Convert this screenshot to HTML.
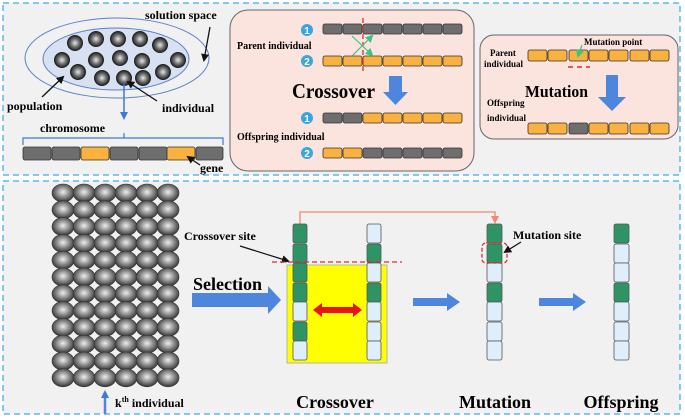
<!DOCTYPE html>
<html><head><meta charset="utf-8"><style>
body{margin:0;background:#fff}
svg{display:block;font-family:"Liberation Serif",serif;font-weight:bold}
</style></head><body>
<svg width="685" height="420" viewBox="0 0 685 420" xmlns="http://www.w3.org/2000/svg">
<defs>
<radialGradient id="b" cx="0.5" cy="0.45" r="0.55"><stop offset="0" stop-color="#eeeeee"/><stop offset="0.5" stop-color="#909090"/><stop offset="1" stop-color="#333"/></radialGradient>
<radialGradient id="s" cx="0.5" cy="0.5" r="0.5"><stop offset="0" stop-color="#e8e8e8"/><stop offset="0.55" stop-color="#707070"/><stop offset="1" stop-color="#222"/></radialGradient>
<ellipse id="g" rx="11" ry="9" fill="url(#b)" stroke="#333" stroke-width="0.6"/>
<circle id="t" r="7.5" fill="url(#s)" stroke="#222" stroke-width="1"/>
<marker id="ah" markerWidth="8" markerHeight="8" refX="6" refY="4" orient="auto" markerUnits="userSpaceOnUse"><path d="M0,0 L8,4 L0,8 Z" fill="#111"/></marker>
<marker id="ag" markerWidth="8" markerHeight="8" refX="6" refY="4" orient="auto" markerUnits="userSpaceOnUse"><path d="M0,0 L8,4 L0,8 Z" fill="#3cc483"/></marker>
<marker id="ab" markerWidth="8" markerHeight="8" refX="6" refY="4" orient="auto" markerUnits="userSpaceOnUse"><path d="M0,0 L8,4 L0,8 Z" fill="#3a7bd5"/></marker>
<marker id="ao" markerWidth="8" markerHeight="8" refX="6" refY="4" orient="auto" markerUnits="userSpaceOnUse"><path d="M0,0 L8,4 L0,8 Z" fill="#f08a6a"/></marker>
</defs>
<rect width="685" height="420" fill="#fff"/>
<rect x="3" y="3" width="677" height="172" fill="#f1f1f1" stroke="#5bbbe8" stroke-width="1.5" stroke-dasharray="6,4"/>
<rect x="3" y="181" width="677" height="233" fill="#f1f1f1" stroke="#5bbbe8" stroke-width="1.5" stroke-dasharray="6,4"/>

<!-- solution space -->
<ellipse cx="117" cy="58" rx="92" ry="40" fill="none" stroke="#5a7fc8" stroke-width="1"/>
<ellipse cx="116" cy="59" rx="73" ry="31" fill="#d8e1f1" stroke="#5a7fc8" stroke-width="1"/>
<use href="#t" x="75" y="43"/><use href="#t" x="96" y="39"/><use href="#t" x="118" y="39"/><use href="#t" x="140" y="39"/><use href="#t" x="160" y="45"/>
<use href="#t" x="62" y="60"/><use href="#t" x="96" y="60"/><use href="#t" x="120" y="58"/><use href="#t" x="142" y="61"/><use href="#t" x="178" y="60"/>
<use href="#t" x="78" y="72"/><use href="#t" x="102" y="78"/><use href="#t" x="124" y="78"/><use href="#t" x="143" y="78"/><use href="#t" x="163" y="72"/>
<text x="145" y="19" font-size="12">solution space</text>
<line x1="210" y1="27" x2="204" y2="60" stroke="#111" stroke-width="1.3" marker-end="url(#ah)"/>
<text x="7" y="110" font-size="12">population</text>
<line x1="42" y1="97" x2="63" y2="77" stroke="#111" stroke-width="1.3" marker-end="url(#ah)"/>
<text x="162" y="112" font-size="12">individual</text>
<line x1="157" y1="101" x2="128" y2="82" stroke="#111" stroke-width="1.3" marker-end="url(#ah)"/>
<line x1="124" y1="84" x2="124" y2="118" stroke="#3a7bd5" stroke-width="1.5" marker-end="url(#ab)"/>
<text x="40" y="132" font-size="12">chromosome</text>
<path d="M23,145 V138 H223 V145 M124,138 V133" fill="none" stroke="#3a7bd5" stroke-width="1.2"/>
<g stroke="#333" stroke-width="0.8">
<rect x="23" y="147" width="28" height="13" rx="2" fill="#6e6e6e"/><rect x="52" y="147" width="28" height="13" rx="2" fill="#6e6e6e"/><rect x="81" y="147" width="28" height="13" rx="2" fill="#f9b13f"/><rect x="110" y="147" width="28" height="13" rx="2" fill="#6e6e6e"/><rect x="139" y="147" width="28" height="13" rx="2" fill="#6e6e6e"/><rect x="167" y="147" width="28" height="13" rx="2" fill="#f9b13f"/><rect x="196" y="147" width="27" height="13" rx="2" fill="#6e6e6e"/>
</g>
<text x="200" y="172" font-size="12">gene</text>
<line x1="200" y1="165" x2="188" y2="157" stroke="#111" stroke-width="1.3" marker-end="url(#ah)"/>

<!-- crossover panel -->
<rect x="230" y="10" width="244" height="161" rx="18" fill="#fbe3de" stroke="#666" stroke-width="1"/>
<g font-size="10" font-family="Liberation Sans,sans-serif" fill="#fff">
<circle cx="307" cy="30" r="6" fill="#3aa6df"/><text x="307" y="34" text-anchor="middle">1</text>
<circle cx="307" cy="61" r="6" fill="#3aa6df"/><text x="307" y="65" text-anchor="middle">2</text>
<circle cx="307" cy="118" r="6" fill="#3aa6df"/><text x="307" y="122" text-anchor="middle">1</text>
<circle cx="307" cy="153" r="6" fill="#3aa6df"/><text x="307" y="157" text-anchor="middle">2</text>
</g>
<g stroke="#333" stroke-width="0.8">
<g fill="#6e6e6e"><rect x="323" y="24" width="19" height="10" rx="2"/><rect x="343" y="24" width="19" height="10" rx="2"/><rect x="363" y="24" width="19" height="10" rx="2"/><rect x="383" y="24" width="19" height="10" rx="2"/><rect x="403" y="24" width="19" height="10" rx="2"/><rect x="423" y="24" width="19" height="10" rx="2"/><rect x="443" y="24" width="19" height="10" rx="2"/></g>
<g fill="#f9b13f"><rect x="323" y="56" width="19" height="10" rx="2"/><rect x="343" y="56" width="19" height="10" rx="2"/><rect x="363" y="56" width="19" height="10" rx="2"/><rect x="383" y="56" width="19" height="10" rx="2"/><rect x="403" y="56" width="19" height="10" rx="2"/><rect x="423" y="56" width="19" height="10" rx="2"/><rect x="443" y="56" width="19" height="10" rx="2"/></g>
<rect x="323" y="113" width="19" height="10" rx="2" fill="#6e6e6e"/><rect x="343" y="113" width="19" height="10" rx="2" fill="#6e6e6e"/>
<g fill="#f9b13f"><rect x="363" y="113" width="19" height="10" rx="2"/><rect x="383" y="113" width="19" height="10" rx="2"/><rect x="403" y="113" width="19" height="10" rx="2"/><rect x="423" y="113" width="19" height="10" rx="2"/><rect x="443" y="113" width="19" height="10" rx="2"/>
<rect x="323" y="148" width="19" height="10" rx="2"/><rect x="343" y="148" width="19" height="10" rx="2"/></g>
<g fill="#6e6e6e"><rect x="363" y="148" width="19" height="10" rx="2"/><rect x="383" y="148" width="19" height="10" rx="2"/><rect x="403" y="148" width="19" height="10" rx="2"/><rect x="423" y="148" width="19" height="10" rx="2"/><rect x="443" y="148" width="19" height="10" rx="2"/></g>
</g>
<line x1="363" y1="18" x2="363" y2="74" stroke="#d9302c" stroke-width="1.3" stroke-dasharray="5,3"/>
<line x1="352" y1="56" x2="372" y2="36" stroke="#3cc483" stroke-width="1.2" marker-end="url(#ag)"/>
<line x1="352" y1="36" x2="372" y2="55" stroke="#3cc483" stroke-width="1.2" marker-end="url(#ag)"/>
<text x="237" y="49" font-size="10">Parent individual</text>
<text x="237" y="140" font-size="10">Offspring individual</text>
<text x="292" y="98" font-size="21" textLength="83" lengthAdjust="spacingAndGlyphs">Crossover</text>
<path d="M389,76 H402 V92 H408 L395.5,105 L383,92 H389 Z" fill="#4d86dc"/>

<!-- mutation panel -->
<rect x="480" y="35" width="198" height="104" rx="14" fill="#fbe3de" stroke="#666" stroke-width="1"/>
<g stroke="#333" stroke-width="0.8" fill="#f9b13f">
<rect x="528" y="50" width="19" height="11" rx="2"/><rect x="548" y="50" width="19" height="11" rx="2"/><rect x="569" y="50" width="19" height="11" rx="2"/><rect x="589" y="50" width="19" height="11" rx="2"/><rect x="609" y="50" width="19" height="11" rx="2"/><rect x="630" y="50" width="19" height="11" rx="2"/><rect x="650" y="50" width="19" height="11" rx="2"/>
<rect x="528" y="123" width="19" height="11" rx="2"/><rect x="548" y="123" width="19" height="11" rx="2"/><rect x="569" y="123" width="19" height="11" rx="2" fill="#6e6e6e"/><rect x="589" y="123" width="19" height="11" rx="2"/><rect x="609" y="123" width="19" height="11" rx="2"/><rect x="630" y="123" width="19" height="11" rx="2"/><rect x="650" y="123" width="19" height="11" rx="2"/>
</g>
<line x1="568" y1="67" x2="590" y2="67" stroke="#d9302c" stroke-width="1.5" stroke-dasharray="5,4"/>
<text x="584" y="45" font-size="9">Mutation point</text>
<line x1="582" y1="45" x2="578" y2="56" stroke="#3cc483" stroke-width="1.2" marker-end="url(#ag)"/>
<text x="490" y="56" font-size="9">Parent</text>
<text x="484" y="67" font-size="9">individual</text>
<text x="487" y="106" font-size="9">Offspring</text>
<text x="487" y="121" font-size="9">individual</text>
<text x="525" y="97" font-size="17" textLength="63" lengthAdjust="spacingAndGlyphs">Mutation</text>
<path d="M606,75 H618 V97 H626 L612,111 L598,97 H606 Z" fill="#4d86dc"/>

<!-- bottom population grid -->
<g id="row">
<use href="#g" x="63" y="193"/><use href="#g" x="84" y="193"/><use href="#g" x="105" y="193"/><use href="#g" x="126" y="193"/><use href="#g" x="147" y="193"/><use href="#g" x="168" y="193"/>
</g>
<use href="#row" y="16.8"/><use href="#row" y="33.6"/><use href="#row" y="50.4"/><use href="#row" y="67.2"/><use href="#row" y="84"/><use href="#row" y="100.8"/><use href="#row" y="117.6"/><use href="#row" y="134.4"/><use href="#row" y="151.2"/><use href="#row" y="168"/><use href="#row" y="184.8"/>
<line x1="105" y1="414" x2="105" y2="392" stroke="#4d86dc" stroke-width="2.5" marker-end="url(#ab)"/>
<text x="115" y="407" font-size="12">k<tspan font-size="8" dy="-5">th</tspan><tspan dy="5"> individual</tspan></text>

<text x="184" y="240" font-size="12">Crossover site</text>
<line x1="240" y1="246" x2="288" y2="261" stroke="#111" stroke-width="1.2" marker-end="url(#ah)"/>
<text x="193" y="290" font-size="18">Selection</text>
<path d="M192,293 H268 V286 L281,300 L268,314 V307 H192 Z" fill="#4d86dc"/>

<rect x="287" y="265" width="100" height="98" fill="#ffff00" stroke="#9ab" stroke-width="0.8"/>
<path d="M300,224 V212 H495 V222" fill="none" stroke="#f08a6a" stroke-width="1.3" marker-end="url(#ao)"/>
<g stroke="#555" stroke-width="0.8">
<rect x="293" y="224" width="14" height="19" rx="2" fill="#2e9466"/><rect x="293" y="244" width="14" height="19" rx="2" fill="#2e9466"/><rect x="293" y="263" width="14" height="19" rx="2" fill="#2e9466"/><rect x="293" y="283" width="14" height="19" rx="2" fill="#2e9466"/><rect x="293" y="302" width="14" height="19" rx="2" fill="#deeefa"/><rect x="293" y="322" width="14" height="19" rx="2" fill="#2e9466"/><rect x="293" y="341" width="14" height="19" rx="2" fill="#deeefa"/>
<rect x="367" y="224" width="14" height="19" rx="2" fill="#deeefa"/><rect x="367" y="244" width="14" height="19" rx="2" fill="#2e9466"/><rect x="367" y="263" width="14" height="19" rx="2" fill="#deeefa"/><rect x="367" y="283" width="14" height="19" rx="2" fill="#2e9466"/><rect x="367" y="302" width="14" height="19" rx="2" fill="#deeefa"/><rect x="367" y="322" width="14" height="19" rx="2" fill="#deeefa"/><rect x="367" y="341" width="14" height="19" rx="2" fill="#deeefa"/>
<rect x="487" y="224" width="15" height="19" rx="2" fill="#2e9466"/><rect x="487" y="244" width="15" height="19" rx="2" fill="#2e9466"/><rect x="487" y="263" width="15" height="19" rx="2" fill="#deeefa"/><rect x="487" y="283" width="15" height="19" rx="2" fill="#2e9466"/><rect x="487" y="302" width="15" height="19" rx="2" fill="#deeefa"/><rect x="487" y="322" width="15" height="19" rx="2" fill="#deeefa"/><rect x="487" y="341" width="15" height="19" rx="2" fill="#deeefa"/>
<rect x="614" y="224" width="15" height="19" rx="2" fill="#2e9466"/><rect x="614" y="244" width="15" height="19" rx="2" fill="#deeefa"/><rect x="614" y="263" width="15" height="19" rx="2" fill="#deeefa"/><rect x="614" y="283" width="15" height="19" rx="2" fill="#2e9466"/><rect x="614" y="302" width="15" height="19" rx="2" fill="#deeefa"/><rect x="614" y="322" width="15" height="19" rx="2" fill="#deeefa"/><rect x="614" y="341" width="15" height="19" rx="2" fill="#deeefa"/>
</g>
<line x1="272" y1="262" x2="402" y2="262" stroke="#d9302c" stroke-width="1.3" stroke-dasharray="5,3"/>
<path d="M313,310 L322,303 V307 H353 V303 L362,310 L353,317 V313 H322 V317 Z" fill="#e8141c"/>
<path d="M413,298 H447 V293 L460,302 L447,311 V306 H413 Z" fill="#4d86dc"/>
<rect x="482" y="243" width="25" height="20" rx="4" fill="none" stroke="#d9302c" stroke-width="1.3" stroke-dasharray="4,2"/>
<text x="513" y="239" font-size="12">Mutation site</text>
<line x1="521" y1="242" x2="505" y2="252" stroke="#111" stroke-width="1.2" marker-end="url(#ah)"/>
<path d="M539,298 H573 V293 L586,302 L573,311 V306 H539 Z" fill="#4d86dc"/>
<text x="335" y="408" font-size="18" text-anchor="middle">Crossover</text>
<text x="495" y="408" font-size="18" text-anchor="middle">Mutation</text>
<text x="621" y="408" font-size="18" text-anchor="middle">Offspring</text>
</svg>
</body></html>
